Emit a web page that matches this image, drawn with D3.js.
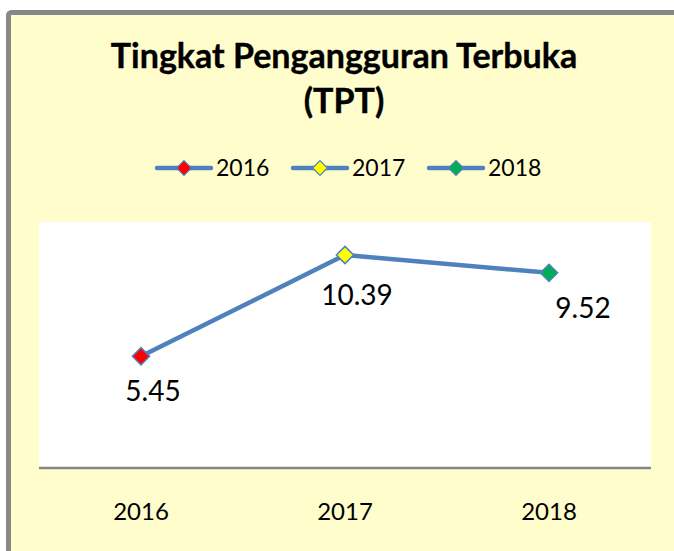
<!DOCTYPE html>
<html>
<head>
<meta charset="utf-8">
<script src="https://cdn.jsdelivr.net/npm/d3@7"></script>
<style>
    html, body { margin: 0; padding: 0; background: #fff; }
    svg { display: block; font-family: Lato, "Open Sans", sans-serif; }
</style>
</head>
<body>
<div id="chart"></div>
<script>
// chart data
const years = ['2016', '2017', '2018'];
const tpt = [5.45, 10.39, 9.52];
const markerColors = ['#FF0000', '#FFFF00', '#00B050'];
const yDomain = [0, 12];
const titleLines = ['Tingkat Pengangguran Terbuka', '(TPT)'];

// label nudges (px), as placed in the original
const labelDx = [12, 12, 34];
const labelDy = [45, 50, 45];

const width = 674;
const height = 551;
const plot = { left: 39, right: 651, top: 222, bottom: 468 };
const lineColor = '#4F81BD';

const svg = d3.select('#chart')
    .append('svg')
    .attr('width', width)
    .attr('height', height);

// frame
svg.append('rect')
    .attr('x', 8.5).attr('y', 12.5)
    .attr('width', width + 20).attr('height', height + 20)
    .attr('rx', 3)
    .attr('fill', '#FFFDCC')
    .attr('stroke', '#888888')
    .attr('stroke-width', 5);

// plot area
svg.append('rect')
    .attr('x', plot.left).attr('y', plot.top)
    .attr('width', plot.right - plot.left)
    .attr('height', plot.bottom - plot.top)
    .attr('fill', '#ffffff');

// title
svg.append('text')
    .attr('text-anchor', 'middle')
    .attr('font-weight', 'bold')
    .attr('font-size', 34)
    .attr('fill', '#000')
    .attr('stroke', '#000')
    .attr('stroke-width', 0.4)
    .selectAll('tspan')
    .data(titleLines)
    .join('tspan')
    .attr('x', 344)
    .attr('y', (d, i) => 68 + i * 45)
    .text(d => d);

// scales
const x = d3.scaleBand()
    .domain(years)
    .range([plot.left, plot.right]);

const y = d3.scaleLinear()
    .domain(yDomain)
    .range([plot.bottom, plot.top]);

const diamond = d3.symbol().type(d3.symbolDiamond2);

// legend
const legend = svg.append('g')
    .selectAll('g')
    .data(years)
    .join('g')
    .attr('transform', (d, i) => `translate(${157 + i * 136}, 168)`);

legend.append('line')
    .attr('x1', 0).attr('x2', 54)
    .attr('stroke', lineColor)
    .attr('stroke-width', 4.5)
    .attr('stroke-linecap', 'round');

legend.append('path')
    .attr('transform', 'translate(27,0)')
    .attr('d', diamond.size(140)())
    .attr('fill', (d, i) => markerColors[i])
    .attr('stroke', lineColor)
    .attr('stroke-width', 1.2);

legend.append('text')
    .attr('x', 59)
    .attr('dy', '0.36em')
    .attr('font-size', 23)
    .text(d => d);

// x axis
const xAxis = d3.axisBottom(x).tickSize(0).tickPadding(0);
const gx = svg.append('g')
    .attr('transform', `translate(0, ${plot.bottom})`)
    .call(xAxis);

gx.select('.domain')
    .attr('d', `M${plot.left},0H${plot.right}`)
    .attr('stroke', '#868686')
    .attr('stroke-width', 2.5);

gx.selectAll('.tick text')
    .attr('y', 52)
    .attr('dy', 0)
    .attr('font-family', 'Lato, sans-serif')
    .attr('font-size', 24)
    .attr('fill', '#000');

// line
const line = d3.line()
    .x((d, i) => x(years[i]) + x.bandwidth() / 2)
    .y(d => y(d));

svg.append('path')
    .datum(tpt)
    .attr('d', line)
    .attr('fill', 'none')
    .attr('stroke', lineColor)
    .attr('stroke-width', 4.5)
    .attr('stroke-linejoin', 'round');

// markers
svg.selectAll('.marker')
    .data(tpt)
    .join('path')
    .attr('class', 'marker')
    .attr('transform', (d, i) => `translate(${x(years[i]) + x.bandwidth() / 2}, ${y(d)})`)
    .attr('d', diamond.size(190)())
    .attr('fill', (d, i) => markerColors[i])
    .attr('stroke', lineColor)
    .attr('stroke-width', 1.5);

// data labels
svg.selectAll('.label')
    .data(tpt)
    .join('text')
    .attr('class', 'label')
    .attr('x', (d, i) => x(years[i]) + x.bandwidth() / 2 + labelDx[i])
    .attr('y', (d, i) => y(d) + labelDy[i])
    .attr('text-anchor', 'middle')
    .attr('font-size', 28)
    .attr('fill', '#000')
    .text(d => d3.format('.2f')(d));
</script>
</body>
</html>
